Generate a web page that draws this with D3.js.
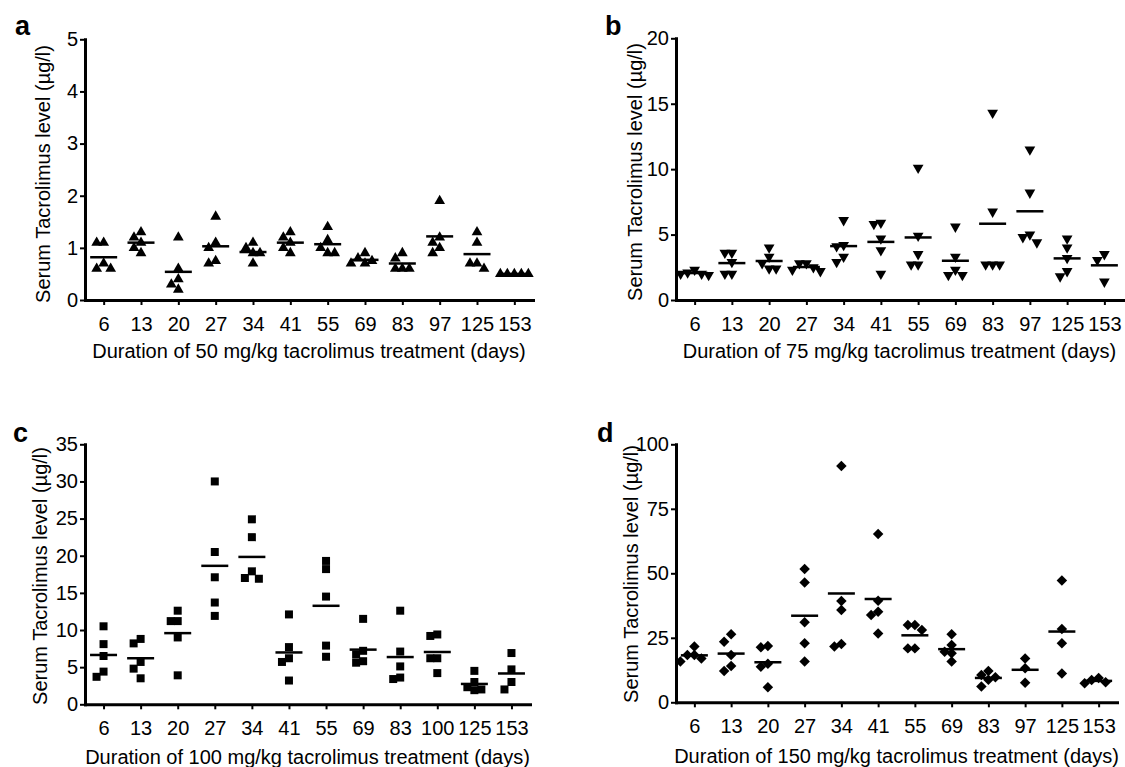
<!DOCTYPE html>
<html><head><meta charset="utf-8">
<script src="https://cdn.jsdelivr.net/npm/d3@7"></script>
<style>
body{margin:0;background:#fff}
svg{display:block}
text{font-family:"Liberation Sans",Arial,Helvetica,sans-serif;fill:#000}
</style>
</head><body>
<svg id="chart" width="1125" height="767"></svg>
<script>
// ---------- data ----------
const daysA = ["6","13","20","27","34","41","55","69","83","97","125","153"];
const daysB = ["6","13","20","27","34","41","55","69","83","97","125","153"];
const daysC = ["6","13","20","27","34","41","55","69","83","100","125","153"];
const daysD = ["6","13","20","27","34","41","55","69","83","97","125","153"];

const ticksA = [0,1,2,3,4,5];
const ticksB = [0,5,10,15,20];
const ticksC = [0,5,10,15,20,25,30,35];
const ticksD = [0,25,50,75,100];

const valsA = [
  [1.1,1.1,0.7,0.6,0.6],
  [1.3,1.1,1.2,0.9,1.0],
  [1.2,0.6,0.4,0.3,0.2],
  [1.6,1.1,1.0,0.7,0.75],
  [1.1,0.9,1.0,0.7,0.9],
  [1.3,1.1,1.2,0.9,1.0],
  [1.4,1.15,1.0,0.9,0.9],
  [0.9,0.8,0.75,0.7,0.7],
  [0.9,0.8,0.6,0.6,0.6],
  [1.9,1.2,1.1,1.0,0.9],
  [1.3,1.1,0.7,0.7,0.6],
  [0.5,0.5,0.5,0.5,0.5]
];
const valsB = [
  [2.3,2.1,2.0,1.9,2.0],
  [3.6,3.6,2.9,2.0,2.0],
  [4.0,3.3,2.8,2.4,2.4],
  [2.8,2.8,2.5,2.3,2.2],
  [6.1,4.2,4.1,3.3,2.9],
  [5.9,5.8,4.7,3.8,2.0],
  [10.1,4.9,3.5,2.7,2.7],
  [5.6,3.3,2.3,1.9,1.9],
  [14.3,6.75,2.7,2.7,2.7],
  [11.5,8.2,5.0,4.8,4.4],
  [4.7,4.0,3.2,2.2,1.8],
  [3.5,3.05,1.4]
];
const valsC = [
  [8.1,10.5,6.5,4.4,3.7],
  [8.2,8.8,5.7,4.8,3.5],
  [12.6,11.2,11.2,9.0,3.9],
  [30,20.5,17.1,13.7,11.9],
  [24.9,22.5,17.9,16.9,17.0],
  [12.1,7.7,6.2,5.7,3.2],
  [19.3,18.2,14.5,7.9,6.4],
  [11.5,7.2,6.7,5.6,5.8],
  [12.6,7.1,5.1,3.4,3.6],
  [9.2,9.4,6.2,6.2,4.2],
  [4.5,3.0,2.3,2.0,1.9],
  [6.9,4.7,3.0,2.0]
];
const valsD = [
  [21.6,18.3,18.3,17.0,15.8],
  [26.4,23.5,18.3,14.1,12.1],
  [21.8,21.3,14.9,13.8,5.8],
  [51.7,46.4,31,22.9,15.8],
  [91.6,39.3,35.8,21.6,22.6],
  [65.2,39.4,35.1,33.8,26.7],
  [30,30,28,20.9,20.9],
  [26.4,22.2,19.6,19.0,15.8],
  [12.1,10.6,9.7,8.7,6.1],
  [17.0,13.2,7.6],
  [47.2,28.4,22.9,11.2],
  [9.4,7.4,7.8,8.6]
];

const yTitle = "Serum Tacrolimus level (µg/l)";
const xTitle = dose => `Duration of ${dose} mg/kg tacrolimus treatment (days)`;

// ---------- layout ----------
const panels = [
  {letter:"a", dose:"50",  cats:daysA, vals:valsA, ticks:ticksA, sym:"up",
   x0:85,  x1:533,  yBot:300,   yTop:39.3,  lx:15,  ly:35,  ytx:50,  yty:174, xtY:358},
  {letter:"b", dose:"75",  cats:daysB, vals:valsB, ticks:ticksB, sym:"down",
   x0:676, x1:1123, yBot:300,   yTop:38.3,  lx:605, ly:35,  ytx:642, yty:172, xtY:358},
  {letter:"c", dose:"100", cats:daysC, vals:valsC, ticks:ticksC, sym:"square",
   x0:85,  x1:530,  yBot:704.3, yTop:444.3, lx:13,  ly:442, ytx:47,  yty:576, xtY:764},
  {letter:"d", dose:"150", cats:daysD, vals:valsD, ticks:ticksD, sym:"diamond",
   x0:676, x1:1117, yBot:702.3, yTop:444.3, lx:597, ly:442, ytx:638, yty:574, xtY:763}
];

const symbols = {
  up:      {type:d3.symbolTriangle, size:50, rot:0},
  down:    {type:d3.symbolTriangle, size:50, rot:180},
  square:  {type:d3.symbolSquare,   size:64, rot:0},
  diamond: {type:d3.symbolSquare,   size:55, rot:45}
};

const STEP = 7, HGT = 8;
const svg = d3.select("#chart");

panels.forEach(p => {
  const g = svg.append("g");
  const x = d3.scalePoint().domain(p.cats).range([p.x0, p.x1]).padding(0.5);
  const ymax = p.ticks[p.ticks.length-1];
  const y = d3.scaleLinear().domain([0, ymax]).range([p.yBot, p.yTop]);

  const ya = g.append("g").attr("transform", `translate(${p.x0},0)`)
    .call(d3.axisLeft(y).tickValues(p.ticks).tickFormat(d3.format("~g"))
      .tickSize(5).tickSizeOuter(0).tickPadding(2));
  const xa = g.append("g").attr("transform", `translate(0,${p.yBot})`)
    .call(d3.axisBottom(x).tickSize(5).tickSizeOuter(0).tickPadding(12));
  [ya, xa].forEach(a => {
    a.attr("font-size", 20).attr("font-family", '"Liberation Sans",Arial,sans-serif');
    a.select(".domain").attr("stroke", "#000").attr("stroke-width", 3).attr("stroke-linecap", "square");
    a.selectAll(".tick line").attr("stroke", "#000").attr("stroke-width", 2);
    a.selectAll(".tick text").attr("fill", "#000");
  });

  // panel letter
  g.append("text").attr("x", p.lx).attr("y", p.ly)
    .attr("font-size", 27).attr("font-weight", "bold").text(p.letter);
  // y title
  g.append("text").attr("transform", `translate(${p.ytx},${p.yty}) rotate(-90)`)
    .attr("text-anchor", "middle").attr("font-size", 20).text(yTitle);
  // x title
  g.append("text").attr("x", (p.x0 + p.x1) / 2).attr("y", p.xtY)
    .attr("text-anchor", "middle").attr("font-size", 20).text(xTitle(p.dose));

  const s = symbols[p.sym];
  const gen = d3.symbol().type(s.type).size(s.size);

  p.vals.forEach((vs, i) => {
    const cx = x(p.cats[i]);
    const placed = [];
    vs.map(v => v).sort((a, b) => b - a).forEach(v => {
      const py = y(v);
      let k = 0, off = 0;
      for (;;) {
        off = k === 0 ? 0 : (k % 2 ? -1 : 1) * Math.ceil(k / 2) * STEP;
        const hit = placed.some(q => Math.abs(q.dx - off) < STEP - 0.01 && Math.abs(q.py - py) < HGT);
        if (!hit) break;
        k++;
      }
      placed.push({dx: off, py});
    });
    g.append("g").selectAll("path").data(placed).join("path")
      .attr("d", gen)
      .attr("transform", d => `translate(${cx + d.dx},${d.py}) rotate(${s.rot})`)
      .attr("fill", "#000");
    const m = d3.mean(vs);
    g.append("line")
      .attr("x1", cx - 13.5).attr("x2", cx + 13.5)
      .attr("y1", y(m)).attr("y2", y(m))
      .attr("stroke", "#000").attr("stroke-width", 2.5);
  });
});
</script>
</body></html>
